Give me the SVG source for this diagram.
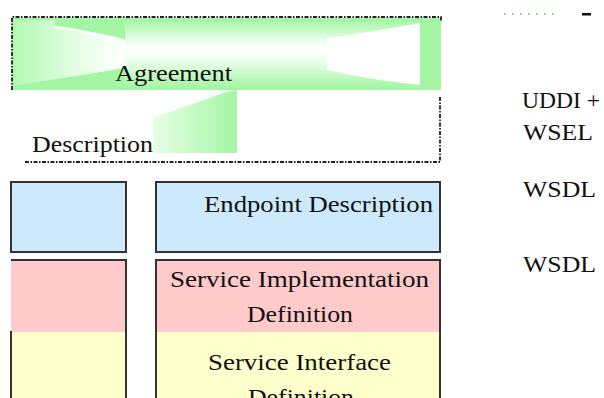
<svg xmlns="http://www.w3.org/2000/svg" width="604" height="398" viewBox="0 0 604 398">
<defs>
<linearGradient id="gv" x1="0" y1="0" x2="0" y2="1">
<stop offset="0" stop-color="#9ef59e"/>
<stop offset="0.4" stop-color="#ffffff"/>
<stop offset="0.55" stop-color="#f4fff4"/>
<stop offset="1" stop-color="#9ef59e"/>
</linearGradient>
<linearGradient id="gl" x1="0" y1="0" x2="1" y2="0">
<stop offset="0" stop-color="#b4f8b4"/>
<stop offset="0.6" stop-color="#e6ffe6"/>
<stop offset="1" stop-color="#ffffff"/>
</linearGradient>
<linearGradient id="gb" x1="0" y1="0" x2="1" y2="0">
<stop offset="0" stop-color="#e6ffe6"/>
<stop offset="1" stop-color="#a4f5a4"/>
</linearGradient>
<style>
.t{font-family:"Liberation Serif","Times New Roman",serif;font-size:24px;fill:#111}
.box{stroke:#333;stroke-width:2}
.dash{fill:none;stroke:#222;stroke-width:1.8;stroke-dasharray:4,1.5,1.5,1.5}
</style>
</defs>
<g id="agreement-description">
<rect x="12" y="18" width="429" height="72" fill="url(#gv)"/>
<rect x="12" y="18" width="113" height="72" fill="#a4f5a4"/>
<polygon points="14,20 55,20 55,27 70,29 90,33 110,37 123,40 125,40 125,68 14,86" fill="url(#gl)"/>
<polyline points="55,27 70,29 90,33 110,37 123,40 123,68" fill="none" stroke="#ffffff" stroke-width="2.5"/>
<polygon points="327,38 350,35 380,30 420,23 420,85 380,80 350,75 327,70" fill="#ffffff"/>
<rect x="420" y="20" width="21" height="70" fill="#a4f5a4"/>
<polygon points="153,117 170,112 190,105 210,98 225,92 237,90 237,153 153,153" fill="url(#gb)"/>
<path class="dash" d="M12,90 V17 H441 V22"/>
<path class="dash" d="M440,97 V162 H24"/>
<text class="t" x="115" y="81" textLength="117" lengthAdjust="spacingAndGlyphs">Agreement</text>
<text class="t" x="32" y="152" textLength="121" lengthAdjust="spacingAndGlyphs">Description</text>
</g>
<g id="left-endpoint">
<rect class="box" x="11" y="182" width="115" height="70" fill="#cceafc"/>
</g>
<g id="left-service">
<rect x="11" y="260" width="115" height="72" fill="#ffcaca"/>
<rect x="11" y="332" width="115" height="70" fill="#ffffcc"/>
<path class="box" fill="none" d="M11,260 H126 V402 M11,331 V402"/>
</g>
<g id="endpoint">
<rect class="box" x="156" y="182" width="284" height="70" fill="#cceafc"/>
<text class="t" x="204" y="212" textLength="229" lengthAdjust="spacingAndGlyphs">Endpoint Description</text>
</g>
<g id="service">
<rect x="156" y="260" width="284" height="72" fill="#ffcaca"/>
<rect x="156" y="332" width="284" height="70" fill="#ffffcc"/>
<path class="box" fill="none" d="M156,402 V260 H440 V402"/>
<text class="t" x="170" y="287" textLength="259" lengthAdjust="spacingAndGlyphs">Service Implementation</text>
<text class="t" x="247" y="322" textLength="106" lengthAdjust="spacingAndGlyphs">Definition</text>
<text class="t" x="208" y="370" textLength="183" lengthAdjust="spacingAndGlyphs">Service Interface</text>
<text class="t" x="248" y="405" textLength="106" lengthAdjust="spacingAndGlyphs">Definition</text>
</g>
<g id="labels">
<line x1="504" y1="14" x2="556" y2="14" stroke="#5cc05c" stroke-width="1.5" stroke-dasharray="1.5,6.5"/>
<rect x="582" y="13" width="9" height="2.5" fill="#111"/>
<text class="t" x="522" y="108" textLength="78" lengthAdjust="spacingAndGlyphs">UDDI +</text>
<text class="t" x="523" y="140" textLength="70" lengthAdjust="spacingAndGlyphs">WSEL</text>
<text class="t" x="523" y="197" textLength="73" lengthAdjust="spacingAndGlyphs">WSDL</text>
<text class="t" x="523" y="272" textLength="73" lengthAdjust="spacingAndGlyphs">WSDL</text>
</g>
</svg>
